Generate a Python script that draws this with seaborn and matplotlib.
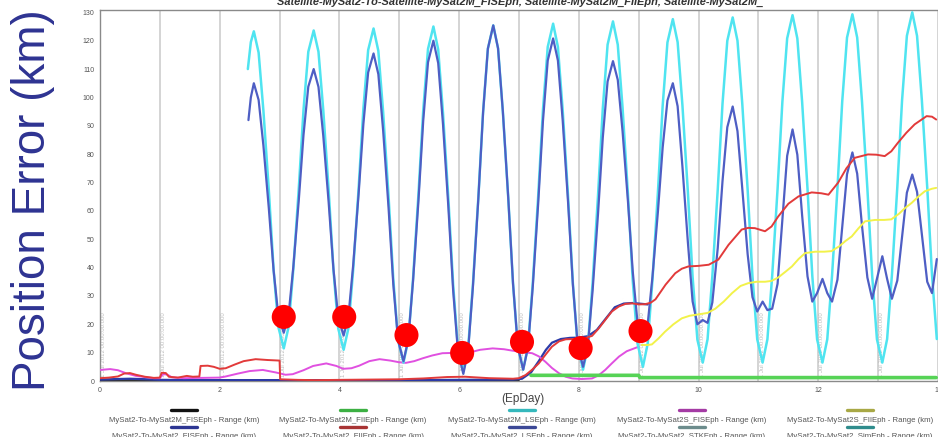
import matplotlib
matplotlib.use("Agg")
import matplotlib.pyplot as plt
from matplotlib.lines import Line2D
from matplotlib.ticker import MultipleLocator
import numpy as np
import pandas as pd
import seaborn as sns

# ---------------------------------------------------------------- data
# Oscillating range errors, sampled once per "day + offset"
sample_offsets = [0.07, 0.15, 0.23, 0.32, 0.40, 0.48, 0.57, 0.65, 0.73, 0.82, 0.90, 0.98]
osc_days = [3, 4, 5, 6, 7, 8, 9, 10, 11, 12, 13]

m_lseph_head_t = [2.47, 2.52, 2.57, 2.65, 2.73, 2.82, 2.90, 2.98]
m_lseph_head = [110.0, 119.5, 123.3, 115.8, 95.3, 67.4, 39.4, 19.0]
m_lseph_rows = [
    [11.5, 19.0, 39.5, 67.6, 95.6, 116.1, 123.6, 116.1, 95.5, 67.3, 39.2, 18.5],
    [11.0, 18.6, 39.3, 67.7, 96.0, 116.7, 124.3, 116.4, 94.9, 65.4, 35.9, 14.4],
    [6.5, 14.4, 36.1, 65.8, 95.4, 117.1, 125.0, 116.9, 94.6, 64.3, 33.9, 11.6],
    [3.5, 11.7, 34.0, 64.5, 94.9, 117.2, 125.4, 117.3, 95.1, 64.7, 34.4, 12.1],
    [4.0, 12.2, 34.5, 65.0, 95.5, 117.8, 126.0, 117.8, 95.5, 65.0, 34.5, 12.2],
    [4.0, 12.2, 34.7, 65.4, 96.1, 118.6, 126.8, 118.6, 96.4, 65.9, 35.5, 13.2],
    [5.0, 13.2, 35.7, 66.3, 97.0, 119.4, 127.6, 119.5, 97.3, 67.1, 36.8, 14.6],
    [6.5, 14.7, 36.9, 67.4, 97.8, 120.0, 128.2, 120.0, 97.8, 67.4, 36.9, 14.7],
    [6.5, 14.7, 37.1, 67.8, 98.4, 120.8, 129.0, 120.8, 98.4, 67.8, 37.1, 14.7],
    [6.5, 14.7, 37.2, 67.9, 98.6, 121.1, 129.3, 121.1, 98.6, 67.9, 37.2, 14.7],
    [6.5, 14.8, 37.4, 68.3, 99.1, 121.7, 130.0, 121.7, 99.1, 68.3, 37.4, 14.8],
]

lseph_head_t = [2.48, 2.52, 2.57, 2.65, 2.73, 2.82, 2.90, 2.98]
lseph_head = [92.0, 100.0, 105.0, 99.1, 83.0, 61.0, 39.0, 22.9]
lseph_rows = [
    [17.0, 23.2, 40.3, 63.5, 86.8, 103.8, 110.0, 103.7, 86.5, 63.0, 39.5, 22.3],
    [16.0, 22.7, 40.9, 65.8, 90.6, 108.8, 115.5, 108.2, 88.4, 61.3, 34.1, 14.3],
    [7.0, 14.6, 35.3, 63.5, 91.8, 112.4, 120.0, 112.1, 90.6, 61.3, 31.9, 10.4],
    [2.5, 10.7, 33.2, 64.0, 94.7, 117.2, 125.4, 117.3, 95.1, 64.7, 34.4, 12.1],
    [4.0, 11.8, 33.2, 62.4, 91.6, 113.0, 120.8, 113.0, 91.9, 62.9, 34.0, 12.8],
    [5.0, 12.2, 32.0, 58.9, 85.9, 105.6, 112.8, 106.2, 88.1, 63.4, 38.7, 20.6],
    [14.0, 20.1, 36.8, 59.5, 82.3, 98.9, 105.0, 96.9, 75.7, 49.3, 28.1, 20.0],
    [21.5, 20.5, 27.7, 46.8, 70.5, 89.5, 96.8, 88.1, 67.9, 44.7, 29.6, 24.5],
    [28.0, 25.0, 25.5, 34.3, 56.9, 79.4, 88.7, 79.8, 58.4, 36.9, 28.0, 31.0],
    [36.0, 31.0, 28.0, 35.7, 54.3, 72.9, 80.6, 73.1, 54.8, 36.5, 29.0, 36.0],
    [44.0, 36.0, 29.0, 35.4, 50.9, 66.4, 72.8, 66.7, 51.9, 35.0, 31.0, 43.0],
]

fiieph_t = [0.0, 0.15, 0.3, 0.4, 0.5, 0.6, 0.75, 0.9, 1.0, 1.03, 1.1, 1.15, 1.3, 1.45,
            1.55, 1.66, 1.68, 1.8, 1.9, 2.0, 2.1, 2.25, 2.4, 2.6, 2.8, 3.0, 3.01, 3.3,
            3.6, 4.0, 4.5, 5.0, 5.4, 5.8, 6.1, 6.5, 6.9, 7.0, 7.11, 7.22, 7.33, 7.44,
            7.55, 7.67, 7.78, 7.9, 8.0, 8.11, 8.22, 8.33, 8.44, 8.55, 8.67, 8.78, 8.89,
            9.0, 9.11, 9.2, 9.28, 9.45, 9.61, 9.72, 9.83, 10.0, 10.17, 10.33, 10.5,
            10.72, 10.83, 10.94, 11.11, 11.22, 11.33, 11.5, 11.67, 11.89, 12.05, 12.17,
            12.33, 12.47, 12.61, 12.83, 12.97, 13.11, 13.22, 13.33, 13.47, 13.61,
            13.81, 13.9, 13.97]
fiieph = [1.0, 1.2, 1.6, 2.6, 2.8, 2.2, 1.5, 1.1, 1.2, 2.9, 2.8, 1.5, 1.2, 1.8,
          1.5, 1.6, 5.3, 5.4, 5.0, 4.3, 4.5, 5.8, 7.0, 7.7, 7.4, 7.2, 0.6, 0.4,
          0.3, 0.4, 0.5, 0.6, 0.9, 1.4, 1.5, 1.0, 0.8, 1.0, 2.1, 4.0, 6.2, 9.2,
          12.1, 14.0, 14.7, 14.8, 14.9, 15.2, 15.9, 18.5, 21.5, 24.5, 26.3, 27.2, 27.4,
          27.0, 27.1, 27.6, 28.8, 34.0, 38.0, 39.6, 40.4, 40.6, 41.0, 42.8, 48.0,
          53.4, 54.0, 53.9, 52.8, 54.5, 58.0, 62.5, 65.1, 66.5, 66.2, 65.7,
          69.9, 75.0, 78.7, 79.9, 79.8, 79.3, 81.0, 84.0, 87.5, 90.5,
          93.4, 93.2, 92.2]

fiseph_t = [0.0, 0.3, 0.5, 0.8, 1.0, 2.0, 3.0, 5.0, 6.9, 7.05, 7.2, 7.33, 7.45, 7.55,
            7.7, 7.85, 8.0, 8.15, 8.3, 8.45, 8.6, 8.75, 8.9, 9.05, 9.15]
fiseph = [0.5, 0.7, 0.8, 0.6, 0.4, 0.3, 0.3, 0.3, 0.5, 0.8, 3.0, 7.0, 11.0, 13.5,
          14.8, 15.2, 15.3, 15.8, 18.0, 22.0, 26.0, 27.3, 27.5, 27.2, 27.0]

s_fiseph_t = [0.0, 0.17, 0.3, 0.44, 0.6, 0.78, 0.9, 1.0, 1.05, 1.12, 1.2, 1.4, 1.7,
              2.0, 2.1, 2.3, 2.5, 2.72, 2.94, 3.1, 3.22, 3.4, 3.56, 3.78, 3.95, 4.06,
              4.2, 4.33, 4.5, 4.67, 4.85, 5.0, 5.11, 5.25, 5.39, 5.55, 5.72, 5.9, 6.05,
              6.2, 6.35, 6.56, 6.75, 6.89, 7.05, 7.22, 7.33, 7.44, 7.55, 7.67, 7.78,
              7.89, 8.05, 8.22, 8.33, 8.44, 8.55, 8.67, 8.8, 9.0]
s_fiseph = [3.9, 4.2, 3.8, 2.7, 1.8, 1.3, 1.0, 1.0, 2.4, 2.3, 1.3, 1.0, 1.1,
            1.2, 1.6, 2.6, 3.5, 3.9, 3.0, 2.2, 2.4, 3.8, 5.3, 6.2, 5.3, 4.3,
            4.5, 5.4, 7.0, 7.7, 7.2, 6.6, 6.4, 7.0, 8.0, 9.0, 9.8, 9.9, 9.8,
            10.2, 11.0, 11.5, 11.2, 10.7, 10.2, 9.8, 8.7, 6.8, 4.6, 2.7, 1.5,
            0.9, 0.7, 0.9, 2.0, 3.9, 6.2, 8.6, 10.5, 12.1]

s_fiieph_t = [9.05, 9.15, 9.22, 9.33, 9.44, 9.58, 9.72, 9.85, 10.0, 10.15, 10.28, 10.42,
              10.56, 10.7, 10.83, 10.97, 11.11, 11.22, 11.33, 11.45, 11.56, 11.67, 11.78,
              11.95, 12.1, 12.22, 12.35, 12.45, 12.56, 12.67, 12.78, 12.95, 13.1, 13.22,
              13.35, 13.45, 13.56, 13.67, 13.78, 13.9, 13.97]
s_fiieph = [12.7, 12.7, 12.9, 15.0, 17.4, 20.0, 22.1, 23.0, 23.5, 24.0, 25.5, 28.0,
            31.0, 33.5, 34.5, 35.0, 35.0, 35.3, 36.5, 38.5, 40.4, 43.0, 45.1,
            45.6, 45.6, 45.8, 47.5, 49.3, 51.0, 53.8, 56.3, 56.8, 56.8, 57.0,
            59.0, 61.0, 62.8, 65.0, 66.9, 67.8, 68.1]

m_fiieph_t = [7.2, 9.0, 9.02, 13.97]
m_fiieph = [2.0, 2.0, 1.2, 1.2]

m_fiseph_t = [0.0, 3.0, 7.0]
m_fiseph = [0.2, 0.2, 0.2]

# highlighted error points
marker_day = [3.07, 4.08, 5.12, 6.05, 7.05, 8.03, 9.03]
marker_err = [22.6, 22.6, 16.2, 9.9, 13.8, 11.6, 17.6]

day_ticks = [0, 2, 4, 6, 8, 10, 12, 14]
err_ticks = [0, 10, 20, 30, 40, 50, 60, 70, 80, 90, 100, 110, 120, 130]

legend_labels = [
    "MySat2-To-MySat2M_FISEph - Range (km)", "MySat2-To-MySat2M_FIIEph - Range (km)",
    "MySat2-To-MySat2M_LSEph - Range (km)", "MySat2-To-MySat2S_FISEph - Range (km)",
    "MySat2-To-MySat2S_FIIEph - Range (km)",
    "MySat2-To-MySat2_FISEph - Range (km)", "MySat2-To-MySat2_FIIEph - Range (km)",
    "MySat2-To-MySat2_LSEph - Range (km)", "MySat2-To-MySat2_STKEph - Range (km)",
    "MySat2-To-MySat2_SimEph - Range (km)",
]
legend_colors = ["#111111", "#3cb043", "#35b8bc", "#a43aa4", "#a8a845",
                 "#2c3592", "#a83434", "#3c4896", "#6c8c8c", "#2f8c8c"]


def rows_to_frame(head_t, head, rows):
    t = list(head_t)
    v = list(head)
    for day, row in zip(osc_days, rows):
        t += [day + off for off in sample_offsets]
        v += row
    return pd.DataFrame({"day": t, "err": v})


# ---------------------------------------------------------------- style
sns.set_theme(style="white")
plt.rcParams["font.family"] = ["Liberation Sans", "DejaVu Sans"]

fig = plt.figure(figsize=(9.38, 4.37), dpi=100)
ax = fig.add_axes([100 / 938, 56 / 437, 838 / 938, 371.5 / 437])

# day grid lines and faint epoch stamps
ax.xaxis.set_minor_locator(MultipleLocator(1))
ax.grid(which="both", axis="x", color="#d4d4d4", lw=1.4, zorder=0)
for d in range(0, 14):
    ax.text(d + 0.06, 1.5, "1 Jul 2012 00:00:00.000", rotation=90, fontsize=4.3,
            color="#bdbdbd", ha="center", va="bottom", zorder=1)

line_specs = [
    (m_fiseph_t, m_fiseph, "#111111", 1.2),
    (fiseph_t, fiseph, "#2c3aa8", 1.6),
    (s_fiseph_t, s_fiseph, "#e050e0", 1.4),
]
for t, v, c, w in line_specs:
    sns.lineplot(x=t, y=v, color=c, lw=w, ax=ax, sort=False, estimator=None, zorder=3)

sns.lineplot(data=rows_to_frame(m_lseph_head_t, m_lseph_head, m_lseph_rows), x="day",
             y="err", color="#4fe4f0", lw=1.8, ax=ax, sort=False, estimator=None, zorder=4)
sns.lineplot(data=rows_to_frame(lseph_head_t, lseph_head, lseph_rows), x="day",
             y="err", color="#4e5ec4", lw=1.6, ax=ax, sort=False, estimator=None, zorder=5)
sns.lineplot(x=fiieph_t, y=fiieph, color="#e23a3a", lw=1.4, ax=ax, sort=False,
             estimator=None, zorder=6)
sns.lineplot(x=s_fiieph_t, y=s_fiieph, color="#f2f24a", lw=1.4, ax=ax, sort=False,
             estimator=None, zorder=6)
sns.lineplot(x=m_fiieph_t, y=m_fiieph, color="#56d356", lw=2.6, ax=ax, sort=False,
             estimator=None, zorder=6)

sns.scatterplot(x=marker_day, y=marker_err, s=300, color="#ff0000", edgecolor="none",
                ax=ax, zorder=10, legend=False)

# ---------------------------------------------------------------- axes
ax.set_xlim(0, 838 / 60)
ax.set_ylim(0, 131)
ax.set_xticks(day_ticks)
ax.set_xticklabels([str(d) for d in day_ticks])
ax.set_yticks(err_ticks)
ax.set_yticklabels([str(v) for v in err_ticks])
ax.yaxis.set_minor_locator(MultipleLocator(2))
ax.tick_params(axis="both", which="major", labelsize=5, labelcolor="#555555",
               color="#777777", length=4, width=0.8, direction="inout", pad=2)
ax.tick_params(axis="both", which="minor", color="#777777", length=2.5, width=0.6,
               direction="out")
ax.tick_params(axis="x", which="minor", length=0)
for side in ["left", "bottom", "top"]:
    ax.spines[side].set_color("#8a8a8a")
    ax.spines[side].set_linewidth(1.0)
ax.spines["right"].set_visible(False)
ax.set_xlabel("")
ax.set_ylabel("")

fig.text(523 / 938, 1 - 399 / 437, "(EpDay)", fontsize=8.5, color="#444444",
         ha="center", va="center")
fig.text(33 / 938, 1 - 200 / 437, "Position Error (km)", rotation=90, fontsize=33,
         color="#2e3392", ha="center", va="center")
fig.text(520 / 938, 1 - 2 / 437,
         "Satellite-MySat2-To-Satellite-MySat2M_FISEph, Satellite-MySat2M_FIIEph, "
         "Satellite-MySat2M_", fontsize=7.9, fontweight="bold", fontstyle="italic",
         color="#333333", ha="center", va="center")

# ---------------------------------------------------------------- legend
col_x = [184, 353, 522, 692, 860]
row_swatch_y = [410, 427]
row_text_y = [420, 437]
for i, (lab, col) in enumerate(zip(legend_labels, legend_colors)):
    r, c = divmod(i, 5)
    cx = col_x[c] / 938
    sy = 1 - row_swatch_y[r] / 437
    fig.add_artist(Line2D([cx - 13 / 938, cx + 13 / 938], [sy, sy], color=col, lw=2.4,
                          transform=fig.transFigure))
    fig.text(cx, 1 - row_text_y[r] / 437, lab, fontsize=5.6, color="#555555",
             ha="center", va="center")

fig.savefig("out.png", dpi=100)
